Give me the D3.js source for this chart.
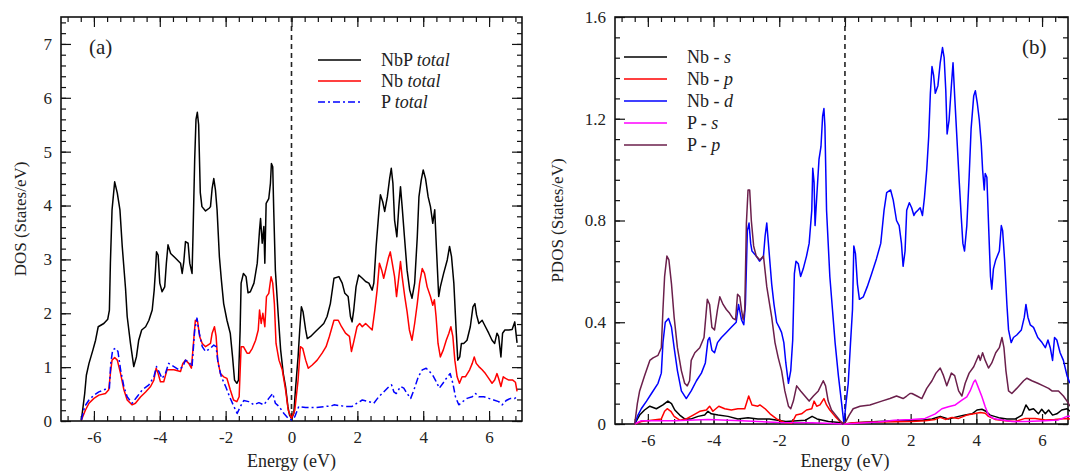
<!DOCTYPE html>
<html>
<head>
<meta charset="utf-8">
<script src="https://cdn.jsdelivr.net/npm/d3@7"></script>
<style>
  body { margin: 0; background: #fff; }
  svg { display: block; }
  svg text { font-family: "Liberation Serif", "Times New Roman", "DejaVu Serif", serif !important; fill: #222; }
  .axis path { display: none; }
  .axis line { stroke: #111; stroke-width: 1.2; }
  .axis text { font-size: 17px; }
</style>
</head>
<body>
<svg id="chart" width="1070" height="473"></svg>
<script>
// ---- data, panel (a): total DOS ----
var nbpTotal = [[-6.38,0.02],[-6.28,0.51],[-6.23,0.85],[-6.15,1.07],[-6.03,1.32],[-5.95,1.50],[-5.87,1.75],[-5.70,1.81],[-5.58,1.89],[-5.53,2.06],[-5.50,2.93],[-5.45,3.92],[-5.37,4.44],[-5.29,4.23],[-5.21,3.92],[-5.14,3.24],[-5.04,2.46],[-4.99,1.94],[-4.89,1.44],[-4.79,1.01],[-4.71,1.19],[-4.64,1.50],[-4.55,1.69],[-4.43,1.75],[-4.33,1.87],[-4.23,2.06],[-4.17,2.43],[-4.13,2.80],[-4.10,3.14],[-4.05,3.08],[-4.00,2.56],[-3.93,2.40],[-3.85,2.49],[-3.80,2.93],[-3.75,3.27],[-3.67,3.11],[-3.52,3.02],[-3.37,2.93],[-3.32,2.74],[-3.27,2.96],[-3.22,3.33],[-3.14,3.30],[-3.09,2.93],[-3.02,2.74],[-2.99,3.48],[-2.94,4.85],[-2.90,5.60],[-2.86,5.73],[-2.82,5.50],[-2.77,4.24],[-2.72,3.98],[-2.61,3.90],[-2.50,3.95],[-2.46,3.98],[-2.41,4.32],[-2.36,4.50],[-2.31,4.29],[-2.26,3.92],[-2.19,3.05],[-2.13,2.62],[-2.06,2.18],[-1.96,1.87],[-1.86,1.63],[-1.79,1.19],[-1.73,0.76],[-1.66,0.70],[-1.61,0.76],[-1.56,1.69],[-1.53,2.56],[-1.46,2.74],[-1.38,2.68],[-1.32,2.38],[-1.25,2.40],[-1.14,2.56],[-1.04,2.93],[-0.97,3.55],[-0.94,3.76],[-0.89,3.30],[-0.84,3.61],[-0.81,2.93],[-0.77,4.04],[-0.69,4.13],[-0.64,4.41],[-0.61,4.78],[-0.57,4.72],[-0.54,3.92],[-0.49,2.80],[-0.40,1.94],[-0.33,1.32],[-0.25,0.88],[-0.18,0.64],[-0.11,0.27],[-0.06,0.11],[0,0.05],[0.07,0.14],[0.12,0.58],[0.20,1.19],[0.25,1.69],[0.30,2.12],[0.35,2.03],[0.43,1.69],[0.48,1.53],[0.58,1.57],[0.73,1.66],[0.88,1.75],[0.98,1.81],[1.08,1.94],[1.18,2.18],[1.29,2.65],[1.44,2.68],[1.54,2.56],[1.62,2.37],[1.72,2.31],[1.79,1.94],[1.84,1.84],[1.89,2.06],[1.96,2.49],[2.04,2.71],[2.15,2.65],[2.25,2.59],[2.35,2.56],[2.45,2.43],[2.50,2.56],[2.57,3.24],[2.65,3.86],[2.70,4.20],[2.77,4.07],[2.83,3.89],[2.91,4.16],[2.98,4.50],[3.03,4.69],[3.08,4.41],[3.13,3.73],[3.20,3.42],[3.26,3.98],[3.31,4.35],[3.36,3.98],[3.43,3.42],[3.51,2.80],[3.59,2.43],[3.66,2.28],[3.74,2.56],[3.82,3.42],[3.87,4.16],[3.94,4.47],[4.00,4.66],[4.07,4.50],[4.15,4.16],[4.22,3.98],[4.29,3.67],[4.35,3.92],[4.39,3.36],[4.47,2.31],[4.52,2.49],[4.62,2.74],[4.73,2.99],[4.80,3.24],[4.86,3.05],[4.93,2.56],[5.00,1.69],[5.05,1.13],[5.11,1.19],[5.16,1.44],[5.23,1.44],[5.33,1.50],[5.43,1.75],[5.51,2.12],[5.57,2.18],[5.62,1.97],[5.69,1.81],[5.79,1.87],[5.89,1.75],[5.99,1.63],[6.09,1.50],[6.17,1.44],[6.24,1.63],[6.29,1.57],[6.36,1.19],[6.41,1.63],[6.48,1.69],[6.60,1.69],[6.70,1.70],[6.78,1.84],[6.85,1.45]];

var nbTotal = [[-6.38,0.02],[-6.26,0.20],[-6.15,0.33],[-6.00,0.42],[-5.85,0.48],[-5.65,0.51],[-5.55,0.58],[-5.50,0.88],[-5.45,1.13],[-5.37,1.18],[-5.29,1.13],[-5.19,0.88],[-5.09,0.58],[-4.99,0.39],[-4.84,0.30],[-4.74,0.33],[-4.58,0.45],[-4.43,0.54],[-4.28,0.64],[-4.18,0.76],[-4.11,0.98],[-4.05,0.88],[-3.98,0.73],[-3.88,0.73],[-3.78,0.95],[-3.57,0.95],[-3.37,0.92],[-3.30,1.07],[-3.22,1.13],[-3.12,1.07],[-3.04,0.98],[-2.97,1.50],[-2.92,1.87],[-2.85,1.84],[-2.79,1.57],[-2.71,1.44],[-2.61,1.38],[-2.46,1.44],[-2.41,1.63],[-2.34,1.75],[-2.29,1.57],[-2.24,1.13],[-2.16,0.88],[-2.06,0.82],[-1.96,0.79],[-1.86,0.58],[-1.76,0.39],[-1.66,0.36],[-1.59,0.45],[-1.53,1.38],[-1.46,1.38],[-1.35,1.26],[-1.28,1.26],[-1.19,1.35],[-1.09,1.50],[-1.01,1.69],[-0.97,2.06],[-0.92,1.81],[-0.87,2.00],[-0.81,1.75],[-0.76,2.31],[-0.69,2.37],[-0.62,2.68],[-0.57,2.56],[-0.52,2.18],[-0.47,1.44],[-0.38,1.13],[-0.28,0.95],[-0.18,0.58],[-0.10,0.20],[0,0.05],[0.10,0.20],[0.20,0.76],[0.27,1.38],[0.34,1.35],[0.43,1.13],[0.51,0.98],[0.63,1.04],[0.78,1.13],[0.93,1.26],[1.05,1.38],[1.15,1.57],[1.29,1.87],[1.42,1.87],[1.52,1.75],[1.64,1.63],[1.76,1.57],[1.82,1.29],[1.89,1.47],[1.99,1.75],[2.07,1.81],[2.15,1.75],[2.25,1.81],[2.35,1.75],[2.45,1.69],[2.53,2.06],[2.60,2.43],[2.67,2.93],[2.74,2.80],[2.80,2.65],[2.88,2.86],[2.94,3.02],[3.00,3.14],[3.06,2.93],[3.13,2.68],[3.19,2.31],[3.26,2.68],[3.31,2.96],[3.36,2.68],[3.44,2.31],[3.51,2.03],[3.58,1.69],[3.66,1.50],[3.74,1.81],[3.82,2.18],[3.89,2.56],[3.97,2.83],[4.04,2.74],[4.12,2.49],[4.22,2.31],[4.29,2.15],[4.34,2.25],[4.39,1.94],[4.45,1.44],[4.52,1.19],[4.61,1.32],[4.70,1.50],[4.78,1.63],[4.84,1.75],[4.90,1.57],[4.96,1.13],[5.03,0.82],[5.10,0.70],[5.18,0.82],[5.28,0.82],[5.41,0.95],[5.49,1.07],[5.55,1.19],[5.61,1.07],[5.69,1.01],[5.79,0.95],[5.89,0.88],[5.99,0.79],[6.09,0.70],[6.17,0.76],[6.24,0.88],[6.29,0.79],[6.36,0.64],[6.43,0.82],[6.50,0.79],[6.60,0.76],[6.72,0.76],[6.80,0.72],[6.85,0.55]];

var pTotal = [[-6.38,0.02],[-6.28,0.27],[-6.15,0.39],[-6.00,0.48],[-5.85,0.54],[-5.65,0.59],[-5.53,0.61],[-5.49,1.07],[-5.43,1.32],[-5.34,1.35],[-5.27,1.29],[-5.19,0.95],[-5.09,0.64],[-4.99,0.45],[-4.84,0.33],[-4.69,0.45],[-4.53,0.58],[-4.33,0.67],[-4.18,0.82],[-4.10,1.01],[-4.03,0.92],[-3.93,0.79],[-3.83,0.88],[-3.73,1.07],[-3.57,1.01],[-3.42,0.95],[-3.30,1.01],[-3.22,1.13],[-3.12,1.10],[-3.02,1.01],[-2.94,1.69],[-2.87,1.91],[-2.80,1.63],[-2.71,1.38],[-2.61,1.29],[-2.46,1.35],[-2.36,1.41],[-2.29,1.38],[-2.23,1.07],[-2.13,0.82],[-2.00,0.64],[-1.88,0.45],[-1.75,0.27],[-1.65,0.14],[-1.55,0.27],[-1.45,0.38],[-1.30,0.36],[-1.14,0.30],[-0.99,0.34],[-0.84,0.30],[-0.69,0.42],[-0.57,0.51],[-0.49,0.33],[-0.38,0.27],[-0.23,0.14],[-0.10,0.05],[0,0.02],[0.10,0.08],[0.22,0.27],[0.43,0.25],[0.73,0.25],[1.03,0.27],[1.21,0.28],[1.29,0.30],[1.64,0.27],[1.84,0.27],[1.99,0.33],[2.15,0.39],[2.35,0.36],[2.50,0.33],[2.65,0.45],[2.80,0.54],[2.96,0.64],[3.04,0.67],[3.11,0.54],[3.18,0.51],[3.31,0.64],[3.41,0.61],[3.51,0.51],[3.62,0.42],[3.72,0.58],[3.85,0.82],[3.97,0.95],[4.09,0.98],[4.19,0.92],[4.29,0.85],[4.37,0.76],[4.49,0.61],[4.60,0.70],[4.70,0.79],[4.82,0.88],[4.90,0.70],[4.98,0.45],[5.08,0.30],[5.20,0.36],[5.33,0.42],[5.49,0.45],[5.59,0.51],[5.69,0.45],[5.84,0.45],[5.99,0.42],[6.14,0.39],[6.29,0.36],[6.40,0.30],[6.52,0.38],[6.65,0.42],[6.78,0.42],[6.84,0.45]];

// ---- data, panel (b): partial DOS ----
var nbS = [[-6.40,0],[-6.25,0.035],[-6.10,0.055],[-5.94,0.07],[-5.74,0.06],[-5.54,0.075],[-5.39,0.09],[-5.28,0.08],[-5.18,0.055],[-5.03,0.035],[-4.88,0.02],[-4.68,0.02],[-4.47,0.03],[-4.27,0.035],[-4.17,0.05],[-4.07,0.04],[-3.86,0.035],[-3.56,0.03],[-3.26,0.02],[-2.95,0.025],[-2.65,0.02],[-2.30,0.02],[-1.80,0.01],[-1.20,0.015],[-1.00,0.03],[-0.85,0.02],[-0.50,0.01],[-0.10,0.005],[0,0],[0.30,0.005],[1.00,0.01],[2.04,0.015],[2.34,0.015],[2.65,0.02],[2.90,0.03],[3.15,0.02],[3.46,0.03],[3.66,0.035],[3.87,0.04],[4.02,0.055],[4.17,0.058],[4.29,0.05],[4.42,0.035],[4.68,0.025],[4.93,0.02],[5.19,0.02],[5.39,0.035],[5.51,0.075],[5.61,0.055],[5.74,0.06],[5.89,0.04],[5.99,0.058],[6.10,0.04],[6.20,0.055],[6.32,0.035],[6.45,0.04],[6.60,0.055],[6.76,0.06],[6.85,0.05]];

var nbP = [[-6.40,0],[-6.20,0.01],[-5.89,0.015],[-5.59,0.02],[-5.49,0.05],[-5.41,0.06],[-5.30,0.05],[-5.20,0.03],[-5.03,0.015],[-4.83,0.02],[-4.62,0.035],[-4.42,0.05],[-4.22,0.055],[-4.12,0.07],[-4.02,0.05],[-3.84,0.07],[-3.66,0.06],[-3.46,0.055],[-3.26,0.06],[-3.05,0.06],[-2.93,0.11],[-2.83,0.075],[-2.65,0.07],[-2.59,0.075],[-2.43,0.06],[-2.28,0.04],[-2.08,0.02],[-1.83,0.005],[-1.62,0.003],[-1.49,0.035],[-1.32,0.04],[-1.17,0.055],[-1.01,0.06],[-0.94,0.09],[-0.86,0.07],[-0.76,0.075],[-0.64,0.10],[-0.56,0.075],[-0.46,0.055],[-0.30,0.03],[-0.15,0.01],[0,0],[0.25,0.005],[1.00,0.008],[2.04,0.01],[2.44,0.013],[2.75,0.018],[2.90,0.026],[3.06,0.018],[3.26,0.026],[3.46,0.022],[3.71,0.035],[3.92,0.04],[4.12,0.045],[4.27,0.042],[4.37,0.03],[4.57,0.018],[4.88,0.013],[5.19,0.01],[5.49,0.022],[5.79,0.022],[6.10,0.016],[6.38,0.018],[6.76,0.022],[6.85,0.02]];

var nbD = [[-6.40,0],[-6.30,0.035],[-6.20,0.06],[-6.04,0.09],[-5.89,0.12],[-5.69,0.16],[-5.59,0.20],[-5.54,0.32],[-5.47,0.40],[-5.37,0.415],[-5.28,0.38],[-5.20,0.30],[-5.10,0.21],[-4.98,0.13],[-4.83,0.10],[-4.68,0.13],[-4.52,0.17],[-4.37,0.20],[-4.25,0.24],[-4.17,0.33],[-4.12,0.34],[-4.05,0.29],[-3.97,0.28],[-3.88,0.32],[-3.76,0.34],[-3.61,0.36],[-3.46,0.38],[-3.31,0.40],[-3.24,0.47],[-3.15,0.41],[-3.08,0.39],[-3.03,0.47],[-2.97,0.76],[-2.92,0.79],[-2.87,0.71],[-2.83,0.68],[-2.70,0.66],[-2.60,0.64],[-2.48,0.66],[-2.43,0.74],[-2.38,0.79],[-2.33,0.71],[-2.28,0.63],[-2.23,0.55],[-2.16,0.47],[-2.08,0.40],[-2.00,0.38],[-1.93,0.36],[-1.86,0.32],[-1.80,0.24],[-1.72,0.16],[-1.65,0.21],[-1.59,0.33],[-1.54,0.59],[-1.49,0.64],[-1.42,0.63],[-1.35,0.58],[-1.27,0.61],[-1.17,0.66],[-1.09,0.71],[-1.01,0.84],[-0.98,1.005],[-0.94,0.95],[-0.91,0.78],[-0.86,0.89],[-0.79,1.04],[-0.73,1.09],[-0.68,1.21],[-0.64,1.24],[-0.61,1.17],[-0.56,0.84],[-0.46,0.58],[-0.38,0.45],[-0.30,0.32],[-0.20,0.19],[-0.10,0.08],[-0.03,0.0],[0.03,0.08],[0.10,0.16],[0.17,0.32],[0.23,0.45],[0.27,0.70],[0.32,0.67],[0.38,0.55],[0.44,0.49],[0.56,0.50],[0.68,0.54],[0.81,0.59],[0.96,0.65],[1.09,0.71],[1.19,0.84],[1.27,0.91],[1.39,0.92],[1.47,0.88],[1.57,0.80],[1.65,0.78],[1.72,0.71],[1.77,0.62],[1.83,0.68],[1.88,0.84],[1.96,0.87],[2.03,0.85],[2.10,0.82],[2.14,0.83],[2.22,0.84],[2.29,0.85],[2.36,0.82],[2.42,0.89],[2.49,1.00],[2.55,1.13],[2.60,1.30],[2.65,1.405],[2.70,1.37],[2.75,1.30],[2.83,1.33],[2.90,1.42],[2.97,1.48],[3.02,1.44],[3.07,1.31],[3.11,1.14],[3.17,1.195],[3.24,1.33],[3.29,1.42],[3.34,1.29],[3.41,1.12],[3.48,0.95],[3.54,0.815],[3.59,0.71],[3.64,0.68],[3.71,0.78],[3.78,0.97],[3.84,1.16],[3.92,1.29],[3.97,1.31],[4.03,1.26],[4.09,1.195],[4.15,1.10],[4.19,1.00],[4.24,0.92],[4.27,0.985],[4.32,0.97],[4.37,0.79],[4.43,0.58],[4.47,0.53],[4.52,0.61],[4.59,0.645],[4.70,0.68],[4.76,0.78],[4.80,0.76],[4.86,0.645],[4.93,0.47],[4.98,0.37],[5.06,0.32],[5.13,0.34],[5.23,0.35],[5.37,0.37],[5.46,0.42],[5.51,0.47],[5.57,0.42],[5.64,0.39],[5.74,0.38],[5.87,0.34],[6.00,0.32],[6.10,0.30],[6.18,0.33],[6.25,0.30],[6.32,0.25],[6.38,0.34],[6.45,0.33],[6.55,0.28],[6.65,0.25],[6.76,0.19],[6.85,0.16]];

var pS = [[-6.40,0],[-6.20,0.013],[-5.18,0.013],[-4.17,0.018],[-3.15,0.013],[-2.00,0.006],[-1.00,0.005],[0,0],[1.00,0.008],[1.50,0.015],[2.04,0.018],[2.44,0.022],[2.75,0.04],[2.95,0.06],[3.15,0.068],[3.36,0.075],[3.56,0.094],[3.71,0.107],[3.81,0.13],[3.92,0.165],[3.97,0.173],[4.05,0.147],[4.17,0.107],[4.27,0.068],[4.37,0.035],[4.52,0.022],[4.78,0.016],[5.08,0.01],[5.49,0.01],[6.10,0.013],[6.50,0.016],[6.76,0.03],[6.85,0.03]];

var pP = [[-6.40,0],[-6.32,0.08],[-6.25,0.13],[-6.10,0.19],[-5.94,0.25],[-5.84,0.26],[-5.69,0.27],[-5.59,0.30],[-5.54,0.45],[-5.49,0.58],[-5.42,0.66],[-5.36,0.645],[-5.28,0.55],[-5.20,0.42],[-5.10,0.30],[-4.98,0.21],[-4.88,0.16],[-4.80,0.15],[-4.73,0.17],[-4.68,0.25],[-4.57,0.28],[-4.42,0.30],[-4.29,0.34],[-4.19,0.49],[-4.12,0.47],[-4.05,0.38],[-3.97,0.37],[-3.88,0.45],[-3.81,0.50],[-3.71,0.47],[-3.61,0.45],[-3.51,0.435],[-3.41,0.415],[-3.33,0.41],[-3.27,0.51],[-3.20,0.50],[-3.15,0.45],[-3.10,0.41],[-3.05,0.45],[-3.00,0.79],[-2.95,0.92],[-2.90,0.92],[-2.85,0.80],[-2.78,0.70],[-2.70,0.66],[-2.59,0.645],[-2.48,0.66],[-2.38,0.54],[-2.23,0.42],[-2.13,0.32],[-2.03,0.26],[-1.93,0.21],[-1.83,0.13],[-1.72,0.07],[-1.65,0.06],[-1.57,0.09],[-1.47,0.15],[-1.35,0.13],[-1.22,0.11],[-1.09,0.09],[-0.96,0.11],[-0.81,0.13],[-0.66,0.17],[-0.59,0.15],[-0.51,0.09],[-0.41,0.055],[-0.25,0.03],[-0.07,0.00],[0.03,0.01],[0.13,0.035],[0.25,0.06],[0.46,0.07],[0.76,0.075],[1.12,0.09],[1.37,0.10],[1.57,0.11],[1.77,0.10],[1.88,0.11],[1.98,0.12],[2.04,0.12],[2.19,0.11],[2.34,0.10],[2.49,0.14],[2.65,0.17],[2.77,0.20],[2.90,0.22],[3.00,0.19],[3.10,0.15],[3.24,0.20],[3.34,0.19],[3.46,0.13],[3.56,0.11],[3.66,0.16],[3.78,0.20],[3.92,0.225],[4.07,0.27],[4.12,0.25],[4.19,0.28],[4.27,0.25],[4.37,0.22],[4.47,0.24],[4.59,0.28],[4.70,0.30],[4.78,0.34],[4.84,0.30],[4.90,0.21],[4.98,0.13],[5.08,0.12],[5.23,0.14],[5.44,0.17],[5.54,0.18],[5.69,0.17],[5.87,0.16],[6.04,0.15],[6.20,0.14],[6.30,0.13],[6.38,0.13],[6.50,0.13],[6.65,0.11],[6.76,0.09],[6.85,0.07]];

// ---- tick labels ----
var energyTicks = [-6, -4, -2, 0, 2, 4, 6];
var dosTicks = [0, 1, 2, 3, 4, 5, 6, 7];
var pdosTicks = [0, 0.4, 0.8, 1.2, 1.6];

var serif = '"Liberation Serif", "Times New Roman", "DejaVu Serif", serif';
var svg = d3.select("#chart");

function range(a, b, step) { // inclusive list of minor tick positions
  var out = [];
  for (var v = a; v <= b + 1e-9; v += step) out.push(+v.toFixed(4));
  return out;
}

function panel(opt) {
  var x = d3.scaleLinear().domain(opt.xDomain).range([opt.left, opt.right]);
  var y = d3.scaleLinear().domain(opt.yDomain).range([opt.bottom, opt.top]);
  var g = svg.append("g");

  // minor + major ticks on all four sides, pointing inward
  function ticks(axisFn, scale, vals, len, fmt, transform, pad) {
    var a = axisFn(scale).tickValues(vals).tickSizeInner(-len).tickSizeOuter(0)
      .tickPadding(pad || 9).tickFormat(fmt || "");
    g.append("g").attr("class", "axis").attr("transform", transform).call(a)
      .attr("font-family", serif).attr("font-size", 17);
  }
  ticks(d3.axisBottom, x, opt.xMinor, 5, null, "translate(0," + opt.bottom + ")");
  ticks(d3.axisTop, x, opt.xMinor, 5, null, "translate(0," + opt.top + ")");
  ticks(d3.axisLeft, y, opt.yMinor, 5, null, "translate(" + opt.left + ",0)");
  ticks(d3.axisRight, y, opt.yMinor, 5, null, "translate(" + opt.right + ",0)");
  ticks(d3.axisBottom, x, energyTicks, 10, function (d) { return String(d); }, "translate(0," + opt.bottom + ")", 10);
  ticks(d3.axisTop, x, energyTicks, 10, null, "translate(0," + opt.top + ")");
  ticks(d3.axisLeft, y, opt.yTicks, 10, opt.yFormat, "translate(" + opt.left + ",0)", 9);
  ticks(d3.axisRight, y, opt.yTicks, 10, null, "translate(" + opt.right + ",0)");

  // frame
  g.append("rect")
    .attr("x", opt.left).attr("y", opt.top)
    .attr("width", opt.right - opt.left).attr("height", opt.bottom - opt.top)
    .attr("fill", "none").attr("stroke", "#111").attr("stroke-width", 1.6);

  // Fermi level
  g.append("line")
    .attr("x1", x(0)).attr("x2", x(0))
    .attr("y1", opt.top).attr("y2", opt.bottom)
    .attr("stroke", "#222").attr("stroke-width", 1.6)
    .attr("stroke-dasharray", "5,4");

  var line = d3.line().x(function (d) { return x(d[0]); }).y(function (d) { return y(d[1]); });
  opt.series.forEach(function (s) {
    g.append("path")
      .datum(s.data)
      .attr("d", line)
      .attr("fill", "none")
      .attr("stroke", s.color)
      .attr("stroke-width", 1.5)
      .attr("stroke-linejoin", "round")
      .attr("stroke-dasharray", s.dash || null);
  });

  // legend
  opt.series.forEach(function (s, i) {
    var ly = opt.legendY + i * opt.legendStep;
    g.append("line")
      .attr("x1", opt.legendX).attr("x2", opt.legendX + 43)
      .attr("y1", ly).attr("y2", ly)
      .attr("stroke", s.color).attr("stroke-width", 1.5)
      .attr("stroke-dasharray", s.dash || null);
    var t = g.append("text")
      .attr("x", opt.legendX + 63).attr("y", ly + 6)
      .style("font-family", serif).style("font-size", "18px");
    t.append("tspan").text(s.name);
    t.append("tspan").style("font-style", "italic").text(s.tag);
  });

  g.append("text").attr("x", opt.tagX).attr("y", 54)
    .style("font-family", serif).style("font-size", "21px").text(opt.tag);

  g.append("text")
    .attr("x", x(0))
    .attr("y", 467).attr("text-anchor", "middle")
    .style("font-family", serif).style("font-size", "18px").text("Energy (eV)");

  g.append("text")
    .attr("transform", "translate(" + opt.yLabelX + "," + ((opt.top + opt.bottom) / 2) + ") rotate(-90)")
    .attr("text-anchor", "middle")
    .style("font-family", serif).style("font-size", "17px").text(opt.yLabel);
}

panel({
  left: 61, right: 522, top: 17, bottom: 421,
  xDomain: [-7, 7], yDomain: [0, 7.5],
  xMinor: range(-6.8, 6.8, 0.4), yMinor: range(0, 7.4, 0.2),
  yTicks: dosTicks, yFormat: function (d) { return String(d); },
  series: [
    { name: "NbP ", tag: "total", color: "#000000", data: nbpTotal },
    { name: "Nb ", tag: "total", color: "#ff0000", data: nbTotal },
    { name: "P ", tag: "total", color: "#0000ff", data: pTotal, dash: "7,3,2,3" }
  ],
  legendX: 318, legendY: 60, legendStep: 21,
  tag: "(a)", tagX: 89,
  yLabel: "DOS (States/eV)", yLabelX: 26
});

panel({
  left: 615, right: 1068, top: 17, bottom: 424,
  xDomain: [-7, 6.79], yDomain: [0, 1.6],
  xMinor: range(-6.8, 6.4, 0.4), yMinor: range(0, 1.6, 0.08),
  yTicks: pdosTicks, yFormat: function (d) { return d === 0 ? "0" : d.toFixed(1); },
  series: [
    { name: "Nb - ", tag: "s", color: "#000000", data: nbS },
    { name: "Nb - ", tag: "p", color: "#ff0000", data: nbP },
    { name: "Nb - ", tag: "d", color: "#0000ff", data: nbD },
    { name: "P - ", tag: "s", color: "#ff00ff", data: pS },
    { name: "P - ", tag: "p", color: "#6b1f4b", data: pP }
  ],
  legendX: 624, legendY: 57, legendStep: 22,
  tag: "(b)", tagX: 1022,
  yLabel: "PDOS (States/eV)", yLabelX: 563
});
</script>
</body>
</html>
